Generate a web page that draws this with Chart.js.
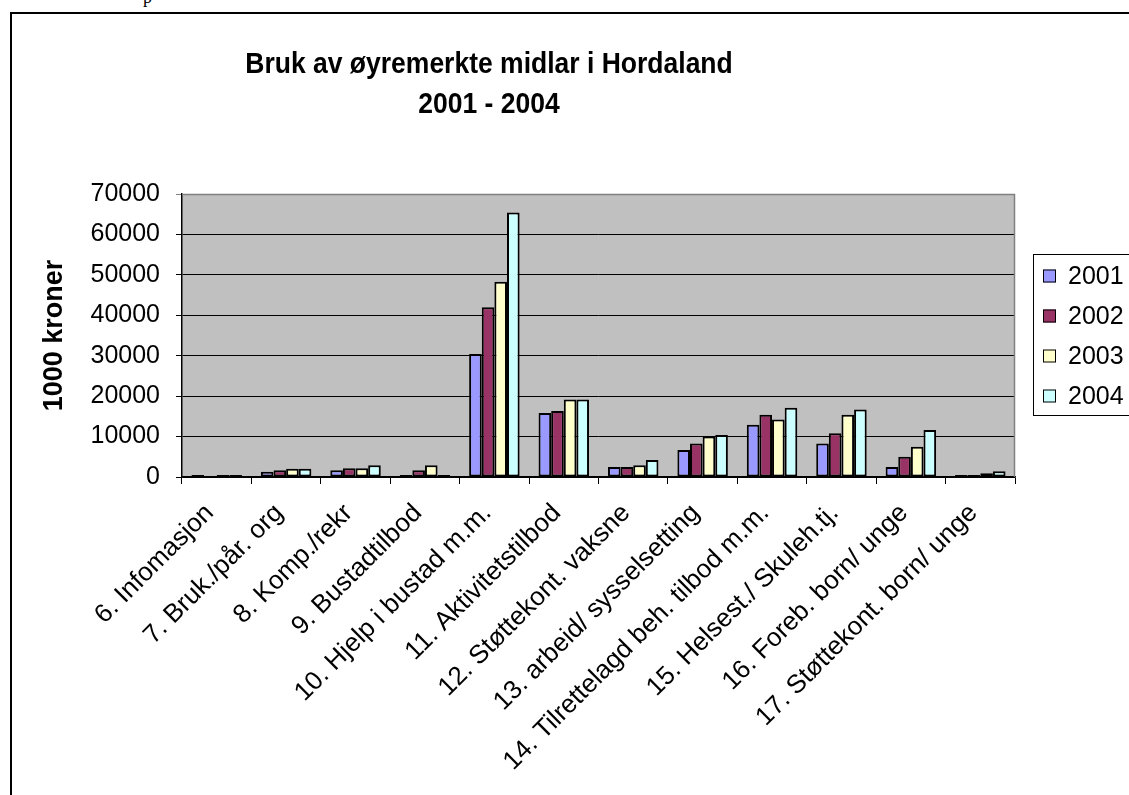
<!DOCTYPE html>
<html lang="no">
<head>
<meta charset="UTF-8">
<title>Bruk av øyremerkte midlar i Hordaland 2001 - 2004</title>
<script src="https://cdn.jsdelivr.net/npm/chart.js"></script>
<style>
  html, body { margin: 0; padding: 0; background: #fff; overflow: hidden; }
  body { width: 1129px; height: 795px; position: relative; }
  .stray { position: absolute; left: 143px; top: -13px; font: 18px "Liberation Serif", serif; }
  #frame { position: absolute; left: 10px; top: 12px; width: 1150px; height: 790px; border: 2px solid #000; }
  canvas { display: block; }
</style>
</head>
<body>
<div class="stray">p</div>
<div id="frame">
  <canvas id="chart" width="1150" height="790"></canvas>
</div>

<script>
  // data (1000 kroner)
  const categories = [
    "6. Infomasjon", "7. Bruk./pår. org", "8. Komp./rekr", "9. Bustadtilbod",
    "10. Hjelp i bustad m.m.", "11. Aktivitetstilbod", "12. Støttekont. vaksne",
    "13. arbeid/ sysselsetting", "14. Tilrettelagd beh. tilbod m.m.",
    "15. Helsest./ Skuleh.tj.", "16. Foreb. born/ unge", "17. Støttekont. born/ unge"
  ];
  const years = ["2001", "2002", "2003", "2004"];
  const v2001 = [500, 1300, 1700, 500, 30400, 15800, 2500, 6700, 12900, 8300, 2500, 500];
  const v2002 = [0, 1700, 2150, 1700, 42000, 16300, 2500, 8300, 15400, 10800, 5000, 500];
  const v2003 = [500, 2050, 2150, 2900, 48300, 19200, 2900, 10000, 14200, 15400, 7500, 900];
  const v2004 = [500, 2050, 2900, 500, 65400, 19200, 4200, 10400, 17100, 16700, 11600, 1400];
  const yTicks = [0, 10000, 20000, 30000, 40000, 50000, 60000, 70000];
  const colors = ["#9999ff", "#993366", "#ffffcc", "#ccffff"];

  const FONT = '"Liberation Sans", Arial, sans-serif';

  // grey plot area with a grey frame on top/right, like Excel
  const plotBg = {
    id: 'plotBg',
    beforeDraw(chart) {
      const { ctx, chartArea: a } = chart;
      ctx.save();
      ctx.fillStyle = '#c0c0c0';
      ctx.fillRect(a.left, a.top, a.right - a.left, a.bottom - a.top);
      ctx.restore();
    },
    beforeDatasetsDraw(chart) {
      const { ctx, chartArea: a } = chart;
      ctx.save();
      ctx.strokeStyle = '#808080';
      ctx.lineWidth = 1.5;
      ctx.beginPath();
      ctx.moveTo(a.left, a.top + 0.5);
      ctx.lineTo(a.right - 0.5, a.top + 0.5);
      ctx.lineTo(a.right - 0.5, a.bottom);
      ctx.stroke();
      ctx.restore();
    }
  };

  // two line title, placed where Excel had it (glyphs a bit taller than normal)
  const titleLines = {
    id: 'titleLines',
    afterDraw(chart, args, opts) {
      const ctx = chart.ctx;
      ctx.save();
      ctx.font = 'bold 26.5px ' + FONT;
      ctx.fillStyle = '#000';
      ctx.textAlign = 'center';
      ctx.textBaseline = 'middle';
      opts.lines.forEach((t, i) => {
        ctx.save();
        ctx.translate(opts.x, opts.y + i * opts.gap);
        ctx.scale(1, 1.13);
        ctx.fillText(t, 0, 0);
        ctx.restore();
      });
      ctx.restore();
    }
  };

  // boxed legend to the right of the plot
  const boxLegend = {
    id: 'boxLegend',
    afterDraw(chart, args, opts) {
      const ctx = chart.ctx;
      const x = chart.chartArea.right + opts.offset;
      ctx.save();
      ctx.strokeStyle = '#000';
      ctx.lineWidth = 1;
      ctx.strokeRect(x + 0.5, opts.top + 0.5, 200, opts.rowGap * chart.data.datasets.length + 1);
      ctx.font = '25px ' + FONT;
      ctx.textBaseline = 'middle';
      chart.data.datasets.forEach((ds, i) => {
        const cy = opts.top + opts.rowGap * (i + 0.5) + 2;
        ctx.fillStyle = ds.backgroundColor;
        ctx.fillRect(x + 10, cy - 6.5, 13, 13);
        ctx.strokeRect(x + 10.5, cy - 6, 12, 12);
        ctx.fillStyle = '#000';
        ctx.fillText(ds.label, x + 35, cy + 1);
      });
      ctx.restore();
    }
  };

  const series = [v2001, v2002, v2003, v2004];

  new Chart(document.getElementById('chart'), {
    type: 'bar',
    data: {
      labels: categories,
      datasets: series.map((vals, i) => ({
        label: years[i],
        data: vals,
        backgroundColor: colors[i],
        borderColor: '#000',
        borderWidth: 2,
        borderSkipped: false,
        categoryPercentage: 4 / 5.5,
        barPercentage: 1
      }))
    },
    plugins: [plotBg, titleLines, boxLegend],
    options: {
      responsive: false,
      animation: false,
      devicePixelRatio: 1,
      layout: { padding: { top: 180, right: 147, left: 0, bottom: 0 } },
      plugins: {
        legend: { display: false },
        tooltip: { enabled: false },
        titleLines: { lines: ["Bruk av øyremerkte midlar i Hordaland", "2001 - 2004"], x: 477, y: 51, gap: 40 },
        boxLegend: { offset: 18, top: 240, rowGap: 40 }
      },
      scales: {
        x: {
          afterFit(scale) { scale.height = 327; },
          grid: { offset: true, drawOnChartArea: false, drawTicks: true, tickLength: 7, color: '#000' },
          border: { color: '#000', width: 1.5 },
          ticks: {
            autoSkip: false, minRotation: 45, maxRotation: 45, padding: 14, labelOffset: -7,
            color: '#000', font: { family: FONT, size: 26 }
          }
        },
        y: {
          min: 0,
          max: 70000,
          afterFit(scale) { scale.width = 170; },
          afterBuildTicks(scale) { scale.ticks = yTicks.map(v => ({ value: v })); },
          grid: {
            color: ctx => (ctx.tick && ctx.tick.value === 70000) ? '#808080' : '#000',
            lineWidth: 1, tickLength: 6
          },
          border: { color: '#000', width: 1.5 },
          ticks: {
            padding: 16, color: '#000', font: { family: FONT, size: 25 },
            callback: v => String(v)
          },
          title: {
            display: true, text: '1000 kroner', color: '#000',
            font: { family: FONT, size: 27, weight: 'bold' },
            padding: { top: 26, bottom: 0 }
          }
        }
      }
    }
  });
</script>
</body>
</html>
